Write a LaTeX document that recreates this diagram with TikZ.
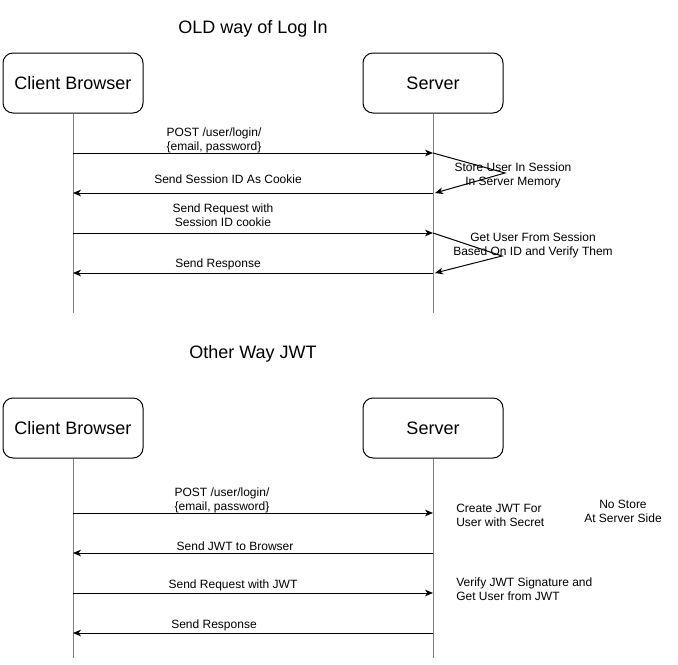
\documentclass[tikz,border=0pt]{standalone}
\usepackage{fontspec}
\setmainfont{Liberation Sans}
\usetikzlibrary{arrows.meta}
\definecolor{lifegray}{RGB}{128,128,128}
\begin{document}
\begin{tikzpicture}[x=0.75pt,y=-0.75pt,
  actor/.style={draw=black,line width=0.75pt,rounded corners=7.5pt,minimum width=105pt,minimum height=45pt,inner sep=0pt,font=\fontsize{13.5}{15}\selectfont},
  title/.style={inner sep=0pt,font=\fontsize{13.5}{15}\selectfont},
  lbl/.style={inner sep=0pt,align=center,yshift=-0.75pt,font=\fontsize{9}{10.5}\selectfont},
  lbll/.style={inner sep=0pt,align=left,anchor=west,yshift=-0.75pt,font=\fontsize{9}{10.5}\selectfont},
  life/.style={draw=lifegray,line width=0.75pt},
  msg/.style={draw=black,line width=0.75pt,-{Stealth[length=6pt,width=5pt,inset=1.8pt]}}]
\useasboundingbox (0,0) rectangle (678,664);
% ---------- OLD way ----------
\node[title] (t1) at (253,29) {OLD way of Log In};
\node[actor] (cb1) at (73,83) {Client Browser};
\node[actor] (sv1) at (433,83) {Server};
\coordinate (cb1e) at (73,313);
\coordinate (sv1e) at (433,313);
\draw[life] (cb1.south) -- (cb1e);
\draw[life] (sv1.south) -- (sv1e);
\coordinate (a1c) at (73,153); \coordinate (a1s) at (433,153);
\coordinate (a2c) at (73,193); \coordinate (a2s) at (433,193);
\coordinate (a3c) at (73,233); \coordinate (a3s) at (433,233);
\coordinate (a4c) at (73,273); \coordinate (a4s) at (433,273);
\coordinate (l1) at (505,173); \coordinate (l1e) at (435,193);
\coordinate (l2) at (502,256); \coordinate (l2e) at (435,273);
\draw[msg] (a1c) -- (a1s);
\draw[msg] (a2s) -- (a2c);
\draw[msg] (a3c) -- (a3s);
\draw[msg] (a4s) -- (a4c);
\draw[msg] (a1s) -- (l1) -- (l1e);
\draw[msg] (a3s) -- (l2) -- (l2e);
\node[lbl] (m1) at (214,139) {POST /user/login/\\\{email, password\}};
\node[lbl] (m2) at (228,178) {Send Session ID As Cookie};
\node[lbl] (m3) at (223,214) {Send Request with\\Session ID cookie};
\node[lbl] (m4) at (218,263) {Send Response};
\node[lbl] (n1) at (513,174) {Store User In Session\\In Server Memory};
\node[lbl] (n2) at (533,244) {Get User From Session\\Based On ID and Verify Them};
% ---------- JWT way ----------
\node[title] (t2) at (253,354) {Other Way JWT};
\node[actor] (cb2) at (73,428) {Client Browser};
\node[actor] (sv2) at (433,428) {Server};
\coordinate (cb2e) at (73,658);
\coordinate (sv2e) at (433,658);
\draw[life] (cb2.south) -- (cb2e);
\draw[life] (sv2.south) -- (sv2e);
\coordinate (b1c) at (73,513); \coordinate (b1s) at (433,513);
\coordinate (b2c) at (73,553); \coordinate (b2s) at (433,553);
\coordinate (b3c) at (73,593); \coordinate (b3s) at (433,593);
\coordinate (b4c) at (73,633); \coordinate (b4s) at (433,633);
\draw[msg] (b1c) -- (b1s);
\draw[msg] (b2s) -- (b2c);
\draw[msg] (b3c) -- (b3s);
\draw[msg] (b4s) -- (b4c);
\node[lbl] (k1) at (222,499) {POST /user/login/\\\{email, password\}};
\node[lbl] (k2) at (235,545) {Send JWT to Browser};
\node[lbl] (k3) at (233,584) {Send Request with JWT};
\node[lbl] (k4) at (214,624) {Send Response};
\node[lbll] (j1) at (456,514) {Create JWT For\\User with Secret};
\node[lbl] (j2) at (623,510) {No Store\\At Server Side};
\node[lbll] (j3) at (456,588) {Verify JWT Signature and\\Get User from JWT};
\end{tikzpicture}
\end{document}
